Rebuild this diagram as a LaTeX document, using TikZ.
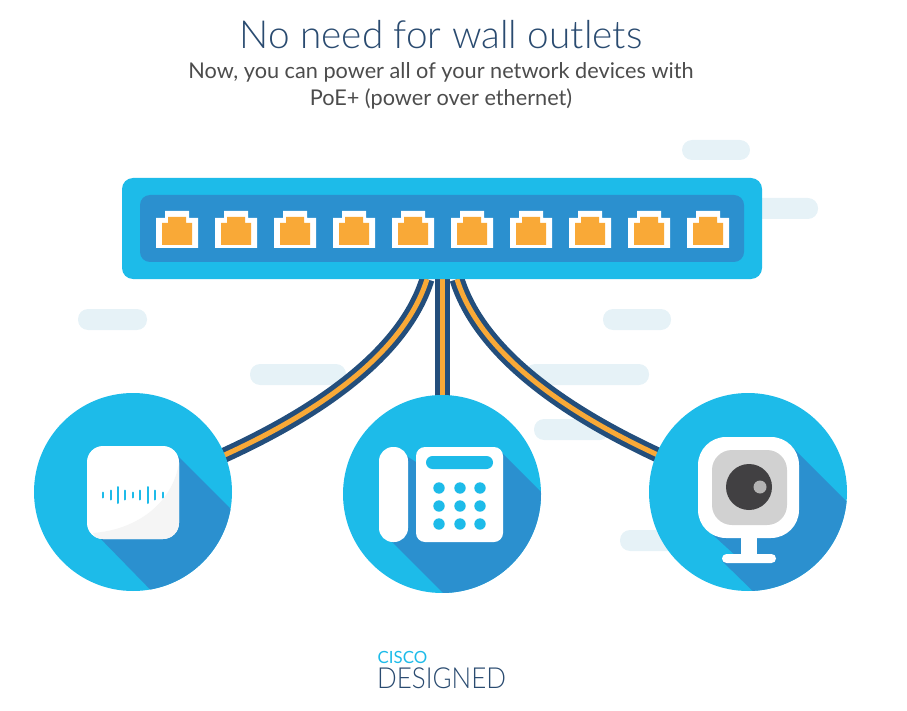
\documentclass[tikz,border=0pt]{standalone}
\usepackage{fontspec}
\setmainfont{Lato Light}
\newfontfamily\bodyfont{Lato}
\usetikzlibrary{backgrounds}
\definecolor{skyblue}{HTML}{1DBBE9}
\definecolor{shadeblue}{HTML}{2B90CF}
\definecolor{cloudblue}{HTML}{E6F2F7}
\definecolor{cablenavy}{HTML}{234E7C}
\definecolor{cableorange}{HTML}{F9A937}
\definecolor{titleblue}{HTML}{2A4B70}
\definecolor{lensgrey}{HTML}{414042}
\definecolor{caseblock}{HTML}{D1D1D1}
\definecolor{glintgrey}{HTML}{B3B3B3}
\tikzset{
    cloud/.style={fill=cloudblue, rounded corners=10pt},
    disc/.style={circle, fill=skyblue, minimum size=198pt, inner sep=0pt},
    cable/.style={line width=5pt, draw=cablenavy, double=cableorange, double distance=5pt},
    icon/.style={fill=white}
}
\begin{document}
\begin{tikzpicture}[x=1pt, y=-1pt]
    \useasboundingbox (0,0) rectangle (907,711);
    \node[text=titleblue, font=\fontsize{38.7}{42}\selectfont] (title) at (441,35) {No need for wall outlets};
    \node[text=black!70, font=\bodyfont\fontsize{21.7}{26.5}\selectfont, align=center] (subtitle) at (441,86) {Now, you can power all of your network devices with\\PoE+ (power over ethernet)};

    \node[fill=skyblue, rounded corners=11pt, minimum width=640pt, minimum height=101pt, inner sep=0pt] (switch) at (442,228.5) {};
    \node[fill=shadeblue, rounded corners=10pt, minimum width=604pt, minimum height=67pt, inner sep=0pt] (panel) at (442,228.5) {};
    \foreach \i in {0,...,9} {
        \fill[white] (156+59*\i,248) -- (156+59*\i,218) -- (165+59*\i,218) -- (165+59*\i,211) -- (189+59*\i,211) -- (189+59*\i,218) -- (198+59*\i,218) -- (198+59*\i,248) -- cycle;
        \fill[cableorange] (162+59*\i,245) -- (162+59*\i,223) -- (168+59*\i,223) -- (168+59*\i,217) -- (186+59*\i,217) -- (186+59*\i,223) -- (192+59*\i,223) -- (192+59*\i,245) -- cycle;
    }

    \node[disc] (apdisc) at (133,492) {};
    \node[disc] (phonedisc) at (442,494) {};
    \node[disc] (cameradisc) at (748,492) {};

    \begin{scope}[on background layer]
        \fill[cloud] (682,140) rectangle (750,160);
        \fill[cloud] (750,198) rectangle (818,219);
        \fill[cloud] (78,309) rectangle (147,330);
        \fill[cloud] (250,364) rectangle (346,385);
        \fill[cloud] (603,309) rectangle (671,330);
        \fill[cloud] (525,364) rectangle (649,385);
        \fill[cloud] (534,419) rectangle (610,440);
        \fill[cloud] (620,530) rectangle (690,551);
        \draw[cable] ([xshift=-15pt]switch.south) .. controls (405,350) and (320,425) .. (apdisc.center);
        \draw[cable] (switch.south) -- (phonedisc.center);
        \draw[cable] ([xshift=15pt]switch.south) .. controls (479,350) and (564,425) .. (cameradisc.center);
    \end{scope}

    % access point
    \begin{scope}
        \clip (133,492) circle (99);
        \fill[shadeblue] (172,450) -- (292,570) -- (269,700) -- (258,700) -- (95,533) -- cycle;
    \end{scope}
    \fill[icon, rounded corners=16pt] (87,446) rectangle (179,539);
    \begin{scope}
        \clip[rounded corners=16pt] (87,446) rectangle (179,539);
        \fill[black!4] (179,463) .. controls (172,505) and (135,530) .. (93,533) -- (100,545) -- (185,545) -- (185,463) -- cycle;
    \end{scope}
    \foreach \bx/\bh in {103.3/5,110.7/9,118/16,125.3/9,132.7/5,140/9,147.7/16,155/9,162.7/5}
        \draw[skyblue, line width=2pt, line cap=round] (\bx,495-\bh/2) -- (\bx,495+\bh/2);

    % phone
    \begin{scope}
        \clip (442,494) circle (99);
        \fill[shadeblue] (498,449) -- (598,549) -- (560,640) -- (490,640) -- (388,538) -- (400,452) -- (416,462) -- cycle;
    \end{scope}
    \fill[icon, rounded corners=14pt] (379,447) rectangle (408,542);
    \fill[icon, rounded corners=9pt] (416,447) rectangle (503,542);
    \fill[skyblue, rounded corners=6.5pt] (426,456) rectangle (493,469);
    \foreach \kx in {439,460,480}
        \foreach \ky in {488,506,524}
            \fill[skyblue] (\kx,\ky) circle (5.7);

    % camera
    \begin{scope}
        \clip (748,492) circle (99);
        \fill[shadeblue] (790,445) -- (900,555) -- (860,640) -- (803,640) -- (722,561) -- (736,556) -- (713,535) -- cycle;
    \end{scope}
    \fill[icon, rounded corners=28pt] (698,437) rectangle (799,538);
    \fill[icon] (741,530) rectangle (757,558);
    \fill[icon, rounded corners=4.5pt] (722,554) rectangle (776,563);
    \fill[caseblock, rounded corners=20pt] (712,450) rectangle (787,525);
    \fill[lensgrey] (749,487) circle (23);
    \fill[glintgrey] (760,487) circle (6.5);

    \node[text=skyblue, inner sep=0pt, anchor=base west, font=\bodyfont\fontsize{16.8}{18}\selectfont] (ciscolabel) at (377.5,663) {CISCO};
    \node[text=titleblue, inner sep=0pt, anchor=base west, font=\fontsize{29}{30}\selectfont] (designedlabel) at (377,688) {\scalebox{.895}[1]{DESIGNED}};
\end{tikzpicture}
\end{document}
